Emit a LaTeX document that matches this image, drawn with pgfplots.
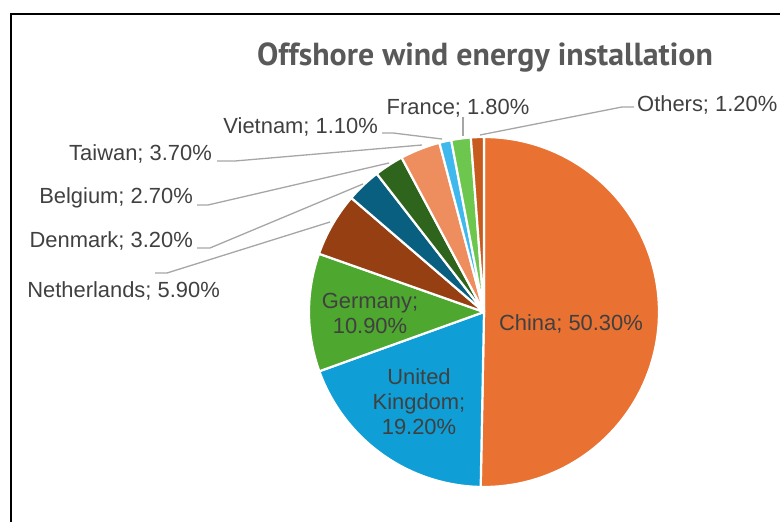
\documentclass[border=0pt]{standalone}
\usepackage{pgfplots}
\pgfplotsset{compat=1.18}
\usepackage{pgfplotstable}
\usepackage{fontspec}
\setmainfont{Liberation Sans}
\newfontfamily\titlefont{PT Sans}
\definecolor{slice0}{HTML}{E97132}
\definecolor{slice1}{HTML}{0F9ED5}
\definecolor{slice2}{HTML}{4EA72E}
\definecolor{slice3}{HTML}{963F12}
\definecolor{slice4}{HTML}{095F80}
\definecolor{slice5}{HTML}{2F641C}
\definecolor{slice6}{HTML}{EE8D5E}
\definecolor{slice7}{HTML}{3FB8EE}
\definecolor{slice8}{HTML}{6DC64E}
\definecolor{slice9}{HTML}{C75B1E}
\definecolor{labelc}{HTML}{404040}
\definecolor{titlec}{HTML}{595959}
\definecolor{leader}{HTML}{A6A6A6}

\pgfplotstableread[col sep=comma]{
country,share
China,50.3
United Kingdom,19.2
Germany,10.9
Netherlands,5.9
Denmark,3.2
Belgium,2.7
Taiwan,3.7
Vietnam,1.1
France,1.8
Others,1.2
}\piedata

\begin{document}
\begin{tikzpicture}
\begin{axis}[at={(0,0)}, anchor=south west,
  width=780bp, height=522bp, scale only axis,
  xmin=0, xmax=780, ymin=0, ymax=522,
  hide axis, clip=false]
\def\cum{0}
\pgfplotsforeachungrouped \i in {0,...,9}{%
  \pgfplotstablegetelem{\i}{share}\of\piedata
  \let\v=\pgfplotsretval
  \pgfmathsetmacro\angA{90-3.6*(\cum+\v)}%
  \pgfmathsetmacro\angB{90-3.6*\cum}%
  \edef\doslice{\noexpand\addplot[fill=slice\i, draw=white, line width=2.2bp, line join=round, domain=\angA:\angB, samples=90] ({484+175*cos(x)},{210+175*sin(x)}) -- (axis cs:484,210) -- cycle;}%
  \doslice
  \pgfmathsetmacro\cum{\cum+\v}%
}
% leader lines
\addplot[leader, line width=1.3bp] coordinates {(463,405) (463,386)};
\addplot[leader, line width=1.3bp] coordinates {(634,415) (622,415) (480,387)};
\addplot[leader, line width=1.3bp] coordinates {(382,389) (393,389) (442,383)};
\addplot[leader, line width=1.3bp] coordinates {(217,361) (235,361) (422,377)};
\addplot[leader, line width=1.3bp] coordinates {(197,317) (208,317) (389,359)};
\addplot[leader, line width=1.3bp] coordinates {(197,274) (210,274) (363,338)};
\addplot[leader, line width=1.3bp] coordinates {(155,249) (167,249) (330,300)};
% frame
\draw[black, line width=2.2bp] (axis cs:11,-5) -- (axis cs:11,508) -- (axis cs:790,508);
% title
\node[anchor=base, text=titlec, inner sep=0pt, font={\titlefont\bfseries\fontsize{32}{36}\selectfont}] at (axis cs:485,456) {Offshore wind energy installation};
% labels
\begin{scope}[every node/.style={inner sep=0pt, text=labelc, font={\fontsize{22}{25}\selectfont}}]
\node[anchor=base] at (axis cs:458,407) {France; 1.80\%};
\node[anchor=base west] at (axis cs:637,410) {Others; 1.20\%};
\node[anchor=base east] at (axis cs:378,388) {Vietnam; 1.10\%};
\node[anchor=base east] at (axis cs:212,361) {Taiwan; 3.70\%};
\node[anchor=base east] at (axis cs:193,318) {Belgium; 2.70\%};
\node[anchor=base east] at (axis cs:193,274) {Denmark; 3.20\%};
\node[anchor=base east] at (axis cs:220,224) {Netherlands; 5.90\%};
\node[anchor=base] at (axis cs:370,213) {Germany;};
\node[anchor=base] at (axis cs:370,188) {10.90\%};
\node[anchor=base] at (axis cs:419,137) {United};
\node[anchor=base] at (axis cs:419,112) {Kingdom;};
\node[anchor=base] at (axis cs:419,87) {19.20\%};
\node[anchor=base] at (axis cs:571,191) {China; 50.30\%};
\end{scope}
\end{axis}
\pgfresetboundingbox
\path[use as bounding box] (0,0) rectangle (780bp,522bp);
\end{tikzpicture}
\end{document}
